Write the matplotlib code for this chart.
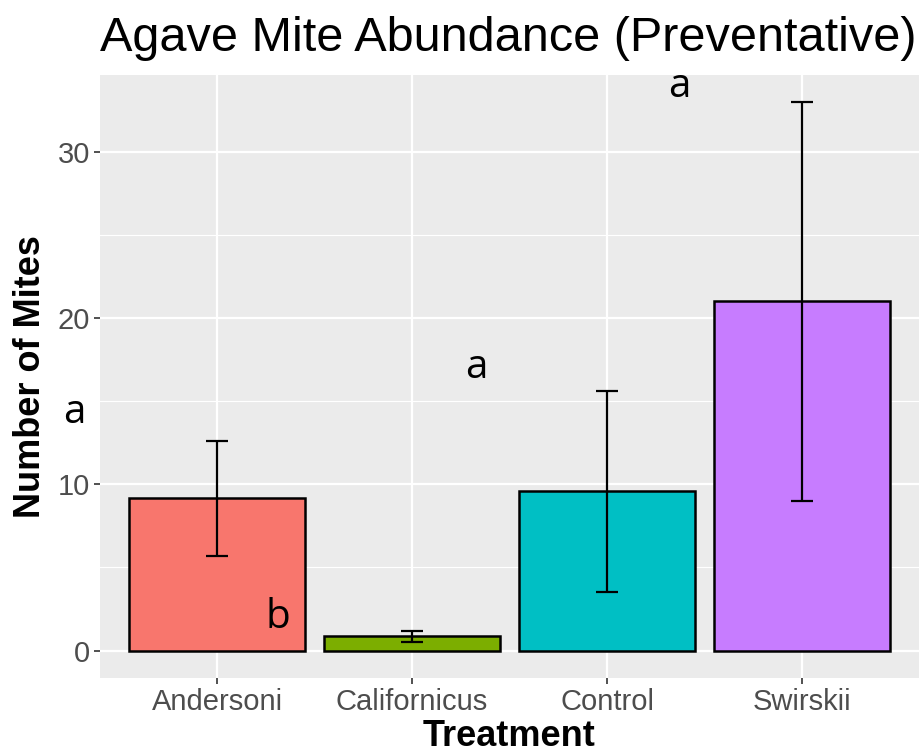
import matplotlib
matplotlib.use("Agg")
import matplotlib.pyplot as plt
from matplotlib.ticker import MultipleLocator

# datos
tratamientos = ["Andersoni", "Californicus", "Control", "Swirskii"]
medias = [9.2, 0.9, 9.6, 21.0]
err_bajo = [5.7, 0.5, 3.5, 9.0]
err_alto = [12.6, 1.2, 15.6, 33.0]
colores = ["#F8766D", "#7CAE00", "#00BFC4", "#C77CFF"]

letras = ["a", "b", "a", "a"]
letras_x = [-0.73, 0.31, 1.33, 2.37]
letras_y = [14.3, 2.0, 17.0, 33.9]

plt.rcParams['font.family'] = ['Liberation Sans', 'DejaVu Sans']

fig = plt.figure(figsize=(9.23, 7.52), dpi=100)
ax = fig.add_axes([100 / 923, 74 / 752, 819 / 923, 603 / 752])

x = list(range(len(tratamientos)))
ax.bar(x, medias, width=0.9, color=colores, edgecolor="black", linewidth=1.8, zorder=3)

yerr = [[m - lo for m, lo in zip(medias, err_bajo)],
        [hi - m for m, hi in zip(medias, err_alto)]]
ax.errorbar(x, medias, yerr=yerr, fmt="none", ecolor="black", elinewidth=1.6,
            capsize=8, capthick=1.6, zorder=4)

for lx, ly, t in zip(letras_x, letras_y, letras):
    ax.text(lx, ly, t, ha="center", va="center", fontsize=29,
            family=["Open Sans", "DejaVu Sans"], zorder=5, clip_on=False)

ax.set_xlim(-0.6, 3.6)
ax.set_ylim(-1.65, 34.6)
ax.set_xticks(x)
ax.set_xticklabels(tratamientos)
ax.yaxis.set_major_locator(MultipleLocator(10))
ax.yaxis.set_minor_locator(MultipleLocator(5))

ax.set_facecolor("#EBEBEB")
ax.grid(which="major", color="white", linewidth=1.6, zorder=0)
ax.grid(which="minor", axis="y", color="white", linewidth=0.8, zorder=0)
ax.set_axisbelow(True)
for s in ax.spines.values():
    s.set_visible(False)

ax.tick_params(axis="both", which="major", length=4, width=1.2, color="#333333",
               labelcolor="#4D4D4D", labelsize=21, pad=3)
ax.tick_params(axis="both", which="minor", length=0)

ax.set_xlabel("Treatment", fontsize=26, fontweight="bold", labelpad=2)
ax.set_ylabel("Number of Mites", fontsize=26, fontweight="bold", labelpad=7)
ax.set_title("Agave Mite Abundance (Preventative)", fontsize=35, loc="left", pad=17)

fig.savefig("out.png", dpi=100)
